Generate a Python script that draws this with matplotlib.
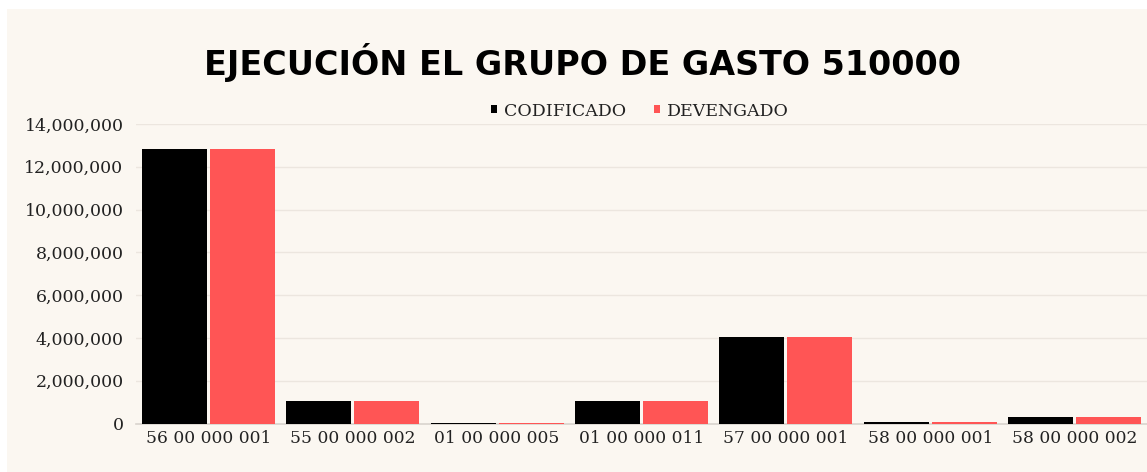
import matplotlib.pyplot as plt
import numpy as np
from matplotlib.patches import Rectangle
from matplotlib.ticker import FuncFormatter

categories = ['56 00 000 001', '55 00 000 002', '01 00 000 005', '01 00 000 011',
              '57 00 000 001', '58 00 000 001', '58 00 000 002']
codificado = [12830000, 1050000, 30000, 1050000, 4050000, 80000, 300000]
devengado = [12830000, 1050000, 30000, 1050000, 4050000, 80000, 300000]

W, H = 1147, 472
fig = plt.figure(figsize=(W / 100, H / 100), dpi=100, facecolor='white')
bg = '#FBF7F1'
fig.patches.append(Rectangle((7 / W, 0), 1 - 7 / W, 1 - 9 / H,
                             transform=fig.transFigure, facecolor=bg,
                             edgecolor='none', zorder=-10))

ax = fig.add_axes([136 / W, (H - 423.5) / H, (1147 - 136) / W, (423.5 - 124) / H])
ax.set_facecolor(bg)

x = np.arange(len(categories))
w = 0.45
ax.bar(x - 0.235, codificado, w, color='black', zorder=3, label='CODIFICADO')
ax.bar(x + 0.235, devengado, w, color='#FF5555', zorder=3, label='DEVENGADO')

ax.set_xlim(-0.5, len(categories) - 0.5)
ax.set_ylim(0, 14000000)
ax.set_yticks(np.arange(0, 14000001, 2000000))
ax.yaxis.set_major_formatter(FuncFormatter(lambda v, p: f'{int(v):,}'))
ax.grid(axis='y', color='#ECE6DF', linewidth=1, zorder=0)
ax.set_xticks(x)
ax.set_xticklabels(categories)
ax.tick_params(length=0, colors='#222222')
ax.tick_params(axis='y', pad=9, labelsize=12.5)
ax.tick_params(axis='x', pad=5, labelsize=12.3)
for lbl in ax.get_xticklabels() + ax.get_yticklabels():
    lbl.set_family('DejaVu Serif')
for s in ['top', 'right', 'left']:
    ax.spines[s].set_visible(False)
ax.spines['bottom'].set_color('#D9D4CE')
ax.spines['bottom'].set_linewidth(1.2)

fig.text(583 / W, 1 - 62 / H, 'EJECUCIÓN EL GRUPO DE GASTO 510000',
         ha='center', va='center', fontsize=24, fontweight='black',
         family='DejaVu Sans', color='black')

leg = fig.legend(loc='center', bbox_to_anchor=(640 / W, 1 - 111 / H), ncol=2,
                 frameon=False, handlelength=0.35, handleheight=0.35,
                 handletextpad=0.4, columnspacing=1.6,
                 prop={'family': 'DejaVu Serif', 'size': 12.5})
for t in leg.get_texts():
    t.set_color('#222222')

fig.savefig('out.png', dpi=100, facecolor='white')
